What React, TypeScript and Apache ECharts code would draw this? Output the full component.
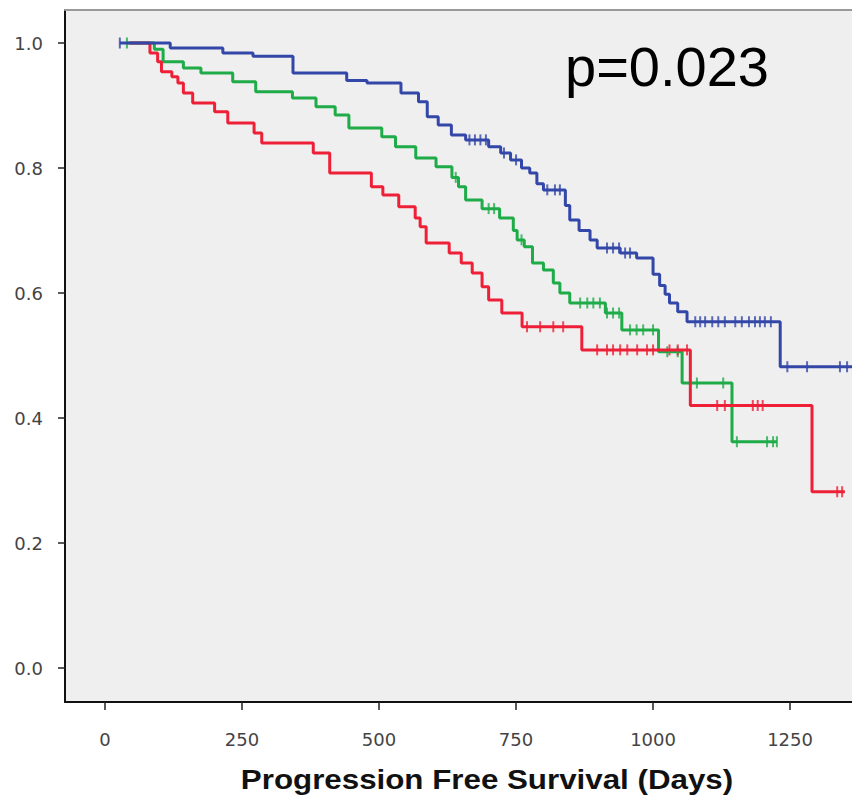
import React, { useEffect, useRef } from "react";
import * as echarts from "echarts";

// Axis ticks
const xTicks = [0, 250, 500, 750, 1000, 1250];
const yTicks = [0, 0.2, 0.4, 0.6, 0.8, 1.0];

// Blue group: step times (days) and survival after each step
const blueT = [27, 119, 215, 270, 343, 441, 478, 540, 572, 588, 608, 632, 658, 700, 722, 740, 760, 775, 788, 800, 840, 848, 865, 885, 898, 940, 970, 1000, 1012, 1022, 1030, 1045, 1062, 1232];
const blueS = [1.0, 0.992, 0.984, 0.979, 0.952, 0.94, 0.936, 0.92, 0.906, 0.882, 0.869, 0.853, 0.845, 0.834, 0.824, 0.813, 0.8, 0.792, 0.775, 0.765, 0.74, 0.717, 0.7, 0.685, 0.672, 0.664, 0.656, 0.63, 0.612, 0.598, 0.584, 0.57, 0.554, 0.482];
const blueEnd = 1363;
const blueCensor = [27, 665, 675, 685, 695, 728, 750, 807, 821, 830, 916, 927, 938, 949, 958, 1077, 1086, 1095, 1108, 1119, 1131, 1150, 1162, 1175, 1186, 1195, 1204, 1215, 1245, 1281, 1341, 1354];

// Green group
const greenT = [40, 90, 106, 143, 175, 233, 275, 342, 385, 420, 445, 505, 530, 567, 604, 633, 645, 658, 688, 720, 745, 752, 765, 780, 800, 818, 830, 848, 913, 943, 1010, 1053, 1144];
const greenS = [1.0, 0.99, 0.97, 0.96, 0.952, 0.938, 0.922, 0.912, 0.898, 0.885, 0.864, 0.85, 0.834, 0.816, 0.802, 0.785, 0.77, 0.749, 0.735, 0.72, 0.7, 0.685, 0.674, 0.648, 0.637, 0.616, 0.6, 0.584, 0.568, 0.541, 0.506, 0.456, 0.362];
const greenEnd = 1226;
const greenCensor = [40, 640, 700, 710, 760, 867, 880, 891, 903, 916, 927, 938, 958, 970, 982, 1000, 1026, 1045, 1080, 1128, 1153, 1208, 1219, 1226];

// Red group
const redT = [46, 82, 96, 103, 122, 133, 143, 160, 200, 224, 272, 286, 380, 410, 486, 507, 536, 566, 575, 586, 628, 650, 670, 688, 700, 724, 761, 870, 1068, 1290];
const redS = [1.0, 0.984, 0.97, 0.954, 0.946, 0.936, 0.92, 0.904, 0.89, 0.872, 0.856, 0.84, 0.824, 0.792, 0.77, 0.757, 0.738, 0.72, 0.706, 0.68, 0.664, 0.648, 0.632, 0.61, 0.589, 0.568, 0.546, 0.509, 0.42, 0.282];
const redEnd = 1350;
const redCensor = [770, 794, 818, 836, 898, 916, 927, 940, 953, 971, 989, 1000, 1030, 1045, 1062, 1117, 1131, 1182, 1191, 1200, 1336, 1345];

const xTitle = "Progression Free Survival (Days)";
const pText = "p=0.023";

const BLUE = "#3347a8";
const GREEN = "#1eab48";
const RED = "#ee2038";

function stepData(T: number[], S: number[], end: number) {
  const d = T.map((t, i) => [t, S[i]]);
  d.push([end, S[S.length - 1]]);
  return d;
}
function survAt(T: number[], S: number[], t: number) {
  let s = S[0];
  for (let i = 0; i < T.length; i++) if (T[i] <= t) s = S[i];
  return s;
}
function censorData(T: number[], S: number[], C: number[]) {
  return C.map((c) => [c, survAt(T, S, c)]);
}

export default function App() {
  const ref = useRef<HTMLDivElement>(null);
  useEffect(() => {
    if (!ref.current) return;
    const chart = echarts.init(ref.current, null, { renderer: "svg" });
    const groups = [
      { T: greenT, S: greenS, end: greenEnd, C: greenCensor, color: GREEN },
      { T: redT, S: redS, end: redEnd, C: redCensor, color: RED },
      { T: blueT, S: blueS, end: blueEnd, C: blueCensor, color: BLUE },
    ];
    const series: any[] = [];
    groups.forEach((g) => {
      series.push({
        type: "line",
        step: "end",
        data: stepData(g.T, g.S, g.end),
        showSymbol: false,
        lineStyle: { color: g.color, width: 3 },
        itemStyle: { color: g.color },
      });
      series.push({
        type: "scatter",
        data: censorData(g.T, g.S, g.C),
        symbol: "rect",
        symbolSize: [2, 11],
        itemStyle: { color: g.color },
      });
    });
    chart.setOption({
      animation: false,
      backgroundColor: "#ffffff",
      grid: {
        left: 65,
        top: 10,
        right: 0,
        bottom: 99,
        show: true,
        backgroundColor: "#efefef",
        borderWidth: 0,
      },
      xAxis: [
        {
          type: "value",
          min: -73,
          max: 1363,
          position: "bottom",
          axisLine: { show: true, onZero: false, lineStyle: { color: "#111", width: 2 } },
          axisTick: { show: true, customValues: xTicks, length: 8, lineStyle: { color: "#222", width: 1.5 } },
          axisLabel: {
            customValues: xTicks,
            margin: 28,
            fontSize: 18,
            color: "#444",
            fontFamily: "DejaVu Sans",
            formatter: (v: number) => String(v),
          },
          splitLine: { show: false },
        },
        {
          type: "value",
          min: -73,
          max: 1363,
          position: "top",
          axisLine: { show: true, onZero: false, lineStyle: { color: "#999", width: 2 } },
          axisTick: { show: false },
          axisLabel: { show: false },
          splitLine: { show: false },
        },
      ],
      yAxis: {
        type: "value",
        min: -0.0544,
        max: 1.0528,
        axisLine: { show: true, onZero: false, lineStyle: { color: "#111", width: 2 } },
        axisTick: { show: true, customValues: yTicks, length: 7, lineStyle: { color: "#222", width: 1.5 } },
        axisLabel: {
          customValues: yTicks,
          margin: 22,
          fontSize: 18,
          color: "#444",
          fontFamily: "DejaVu Sans",
          formatter: (v: number) => v.toFixed(1),
        },
        splitLine: { show: false },
      },
      graphic: [
        {
          type: "text",
          x: 487,
          y: 780,
          scaleX: 1.16,
          style: {
            text: xTitle,
            fontSize: 27,
            fontWeight: "bold",
            fontFamily: "Arial",
            fill: "#111",
            align: "center",
            verticalAlign: "middle",
          },
        },
        {
          type: "text",
          x: 565,
          y: 66,
          style: {
            text: pText,
            fontSize: 56,
            fontFamily: "Arial",
            fill: "#000",
            align: "left",
            verticalAlign: "middle",
          },
        },
      ],
      series,
    });
    return () => chart.dispose();
  }, []);
  return <div ref={ref} style={{ position: "absolute", left: 0, top: 0, width: 852, height: 801 }} />;
}
